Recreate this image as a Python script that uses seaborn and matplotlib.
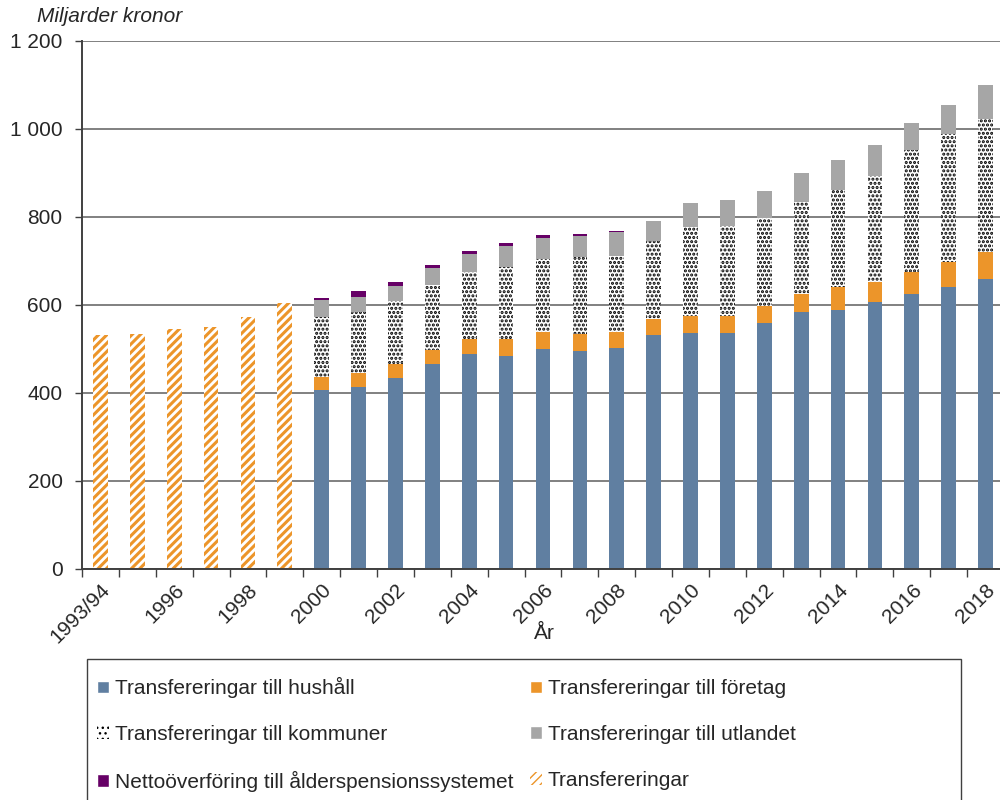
import numpy as np
import pandas as pd
import seaborn as sns
import matplotlib.pyplot as plt
from matplotlib.patches import Patch, Rectangle
from matplotlib.ticker import FuncFormatter

years = ["1993/94", "1995", "1996", "1997", "1998", "1999"] + [str(y) for y in range(2000, 2019)]
tick_labels = [y if i % 2 == 0 else "" for i, y in enumerate(years)]

# old series (only total transfers), 1993/94-1999
transfereringar = [532, 533, 545, 550, 573, 605] + [0] * 19

# new series 2000-2018
hushall = [0] * 6 + [407, 414, 435, 467, 489, 484, 500, 496, 502, 532,
                     536, 536, 559, 585, 589, 606, 625, 642, 658]
foretag = [0] * 6 + [29, 31, 31, 31, 33, 38, 39, 38, 37, 37,
                     40, 40, 39, 41, 51, 47, 51, 55, 62]
kommuner = [0] * 6 + [137, 138, 144, 147, 152, 165, 165, 174, 172, 176,
                      201, 204, 199, 207, 221, 240, 276, 292, 302]
utlandet = [0] * 6 + [38, 36, 34, 38, 41, 46, 48, 48, 54, 45,
                      55, 58, 61, 68, 69, 70, 62, 65, 78]
pension = [0] * 6 + [4, 13, 9, 9, 8, 9, 8, 6, 3, 0,
                     0, 0, 0, 0, 0, 0, 0, 0, 0]

c_blue = "#607FA1"
c_orange = "#EC952A"
c_gray = "#A6A6A6"
c_purple = "#660066"
FS = 15

sns.set_style("white")
plt.rcParams["font.family"] = ["Liberation Sans", "DejaVu Sans"]

df = pd.DataFrame({"year": years})
df["hushall"] = hushall
df["foretag"] = df["hushall"] + foretag
df["kommuner"] = df["foretag"] + kommuner
df["utlandet"] = df["kommuner"] + utlandet
df["pension"] = df["utlandet"] + pension
df["transf"] = transfereringar

fig = plt.figure(figsize=(10, 8), dpi=100)
ax = fig.add_axes([0.082, 0.28875, 0.922, 0.66])


def hatch_it(p, hatch, edge, lw):
    # hatch line width per patch (works whether it's read at creation or at draw time)
    p.set_hatch(hatch)
    p.set_edgecolor(edge)
    p.set_linewidth(0)
    if hasattr(p, "set_hatch_linewidth"):
        p.set_hatch_linewidth(lw)
    orig = p.draw

    def draw(renderer, _orig=orig, _lw=lw):
        with plt.rc_context({"hatch.linewidth": _lw}):
            _orig(renderer)
    p.draw = draw


def bars(col, color, hatch=None, edge=None, lw=1.0):
    n0 = len(ax.patches)
    sns.barplot(data=df, x="year", y=col, order=years, color=color, saturation=1,
                width=0.4, linewidth=0, ax=ax, zorder=3)
    if hatch:
        for p in ax.patches[n0:]:
            hatch_it(p, hatch, edge, lw)


# draw cumulative totals from the top down so lower parts cover upper ones
bars("pension", c_purple)
bars("utlandet", c_gray)
bars("kommuner", "white", hatch="....", edge="black", lw=1.5)
bars("foretag", c_orange)
bars("hushall", c_blue)
bars("transf", "white", hatch="////", edge=c_orange, lw=2.2)

ax.set_ylim(0, 1200)
ax.set_xlim(-0.5, len(years) - 0.5)
ax.set_yticks(np.arange(0, 1201, 200))
ax.yaxis.set_major_formatter(FuncFormatter(lambda v, _: f"{int(v):,}".replace(",", " ")))
ax.yaxis.grid(True, color="#808080", linewidth=1.4, zorder=0)
ax.set_axisbelow(True)

ax.set_xticks(range(len(years)))
ax.set_xticklabels(tick_labels, rotation=45, ha="right", rotation_mode="anchor")
ax.set_xticks(np.arange(-0.5, len(years), 1), minor=True)
ax.tick_params(axis="x", which="major", length=0, labelsize=FS, pad=8)
ax.tick_params(axis="x", which="minor", length=6, width=1, color="#404040", bottom=True)
ax.tick_params(axis="y", length=5, width=1, color="#404040", labelsize=FS, pad=9, left=True)

for s in ["top", "right"]:
    ax.spines[s].set_visible(False)
for s in ["left", "bottom"]:
    ax.spines[s].set_color("#404040")
    ax.spines[s].set_linewidth(1.4)
    ax.spines[s].set_zorder(5)

ax.set_xlabel("År", fontsize=FS)
ax.xaxis.set_label_coords(0.502, -0.104)
ax.set_ylabel("")
fig.text(0.037, 0.979, "Miljarder kronor", fontsize=FS, style="italic", va="center", ha="left")

handles = [
    Patch(facecolor=c_blue, label="Transfereringar till hushåll"),
    Patch(facecolor="white", edgecolor="black", hatch="...", linewidth=0,
          label="Transfereringar till kommuner"),
    Patch(facecolor=c_purple, label="Nettoöverföring till ålderspensionssystemet"),
    Patch(facecolor=c_orange, label="Transfereringar till företag"),
    Patch(facecolor=c_gray, label="Transfereringar till utlandet"),
    Patch(facecolor="white", edgecolor=c_orange, hatch="////", linewidth=0,
          label="Transfereringar"),
]
fig.legend(handles=handles, ncol=2, loc="upper left", bbox_to_anchor=(0.089, 0.164),
           frameon=False, fontsize=FS, handlelength=0.55, handleheight=0.55,
           handletextpad=0.3, labelspacing=1.29, columnspacing=0.8, borderaxespad=0)
fig.patches.append(Rectangle((0.087, -0.05), 0.874, 0.226, transform=fig.transFigure,
                             fill=False, edgecolor="#404040", linewidth=1))

fig.savefig("out.png", dpi=100)
